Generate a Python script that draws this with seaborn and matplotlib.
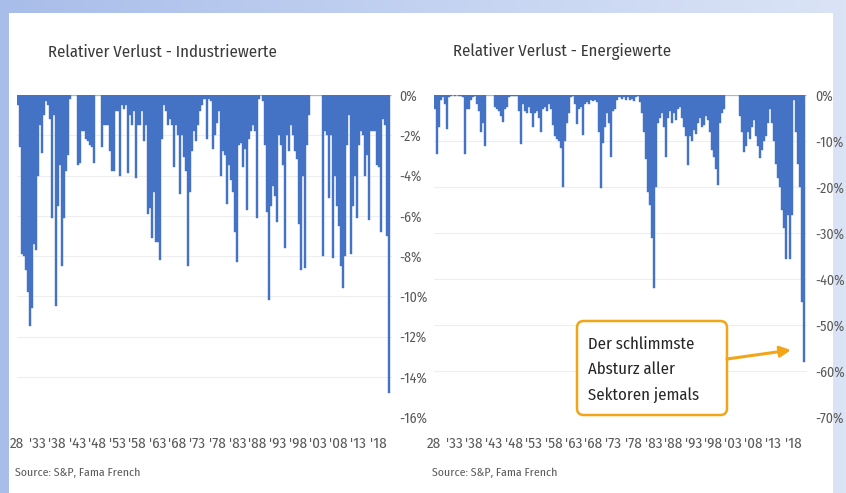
import numpy as np
import pandas as pd
import matplotlib
matplotlib.use("Agg")
import matplotlib.pyplot as plt
import seaborn as sns
from matplotlib import font_manager
from matplotlib.patches import Rectangle, FancyBboxPatch
from matplotlib.colors import LinearSegmentedColormap

# ---------------- data (half-year periods, relative drawdown in %) ----------------
periods = np.arange(1928.0, 2021.0, 0.5)

industrials = [
    -0.5, -2.6, -7.9, -8.0, -8.7, -9.8, -11.5, -10.6, -7.4, -7.7,   # 1928-1932
    -4.0, -1.5, -2.9, -1.0, -0.3, -0.5, -1.2, -6.1, -1.0, -10.5,    # 1933-1937
    -5.5, -3.5, -8.5, -6.1, -3.8, -3.0, -0.2, 0.0, 0.0, 0.0,        # 1938-1942
    -3.5, -3.4, -1.8, -1.8, -2.2, -2.3, -2.5, -2.6, -3.4, 0.0,      # 1943-1947
    0.0, 0.0, -2.6, -1.5, -1.5, -1.5, -2.8, -3.8, -3.8, -0.8,       # 1948-1952
    -0.8, -4.0, -0.5, -0.7, -0.5, -3.9, -1.0, -1.5, -0.8, -4.1,     # 1953-1957
    -1.5, -1.5, -0.8, -2.3, -1.5, -5.9, -5.6, -7.1, -4.8, -7.3,     # 1958-1962
    -7.3, -8.2, -2.2, -0.5, -0.8, -1.5, -1.2, -1.5, -3.6, -1.5,     # 1963-1967
    -2.0, -4.9, -2.0, -3.1, -3.8, -8.5, -4.8, -2.8, -1.8, -2.3,     # 1968-1972
    -1.5, -0.8, -0.5, -0.2, -2.2, -0.2, -0.3, -2.7, -2.0, -1.4,     # 1973-1977
    -0.8, -4.0, -2.8, -3.0, -5.4, -3.5, -4.2, -4.8, -6.8, -8.3,     # 1978-1982
    -2.5, -2.4, -3.6, -2.7, -5.7, -2.2, -1.8, -1.5, -1.8, -6.1,     # 1983-1987
    -0.2, 0.0, -0.3, -2.5, -5.8, -10.2, -5.5, -4.5, -5.0, -6.3,     # 1988-1992
    -2.0, -2.5, -3.5, -7.6, -2.0, -2.8, -1.5, -2.0, -2.8, -3.2,     # 1993-1997
    -6.4, -8.7, -4.0, -8.6, -2.5, -1.0, 0.0, 0.0, 0.0, 0.0,         # 1998-2002
    0.0, 0.0, -8.0, -1.8, -2.0, -5.1, -2.0, -8.1, -4.0, -5.5,       # 2003-2007
    -6.5, -8.5, -9.6, -8.0, -2.5, -1.0, -7.9, -5.5, -4.0, -6.1,     # 2008-2012
    -2.5, -1.8, -2.0, -4.0, -3.0, -6.2, -1.8, -1.8, -1.8, -3.5,     # 2013-2017
    -3.6, -6.8, -1.2, -1.5, -7.0, -14.8,                            # 2018-2020
]

energy = [
    -3.0, -12.8, -7.0, -1.0, -0.5, -2.0, -7.3, -0.5, -0.3, 0.0,     # 1928-1932
    -0.2, 0.0, -0.3, -0.2, -0.5, -12.8, -3.0, -3.0, -1.0, -0.5,     # 1933-1937
    -0.3, -2.0, -3.5, -8.0, -6.0, -11.0, 0.0, 0.0, 0.0, 0.0,        # 1938-1942
    -2.5, -3.0, -3.5, -4.5, -5.9, -3.0, -2.5, -0.5, -0.3, -0.3,     # 1943-1947
    -0.3, -0.3, -3.5, -10.6, -2.0, -3.5, -4.0, -2.5, -4.0, -7.0,    # 1948-1952
    -4.0, -3.5, -5.0, -8.0, -3.0, -2.5, -3.5, -2.0, -3.0, -6.5,     # 1953-1957
    -9.0, -9.5, -10.0, -11.5, -20.0, -10.0, -6.0, -4.0, -0.5, -0.3, # 1958-1962
    -2.0, -6.2, -3.0, -2.5, -8.8, -2.0, -1.5, -2.0, -1.0, -1.2,     # 1963-1967
    -1.0, -1.5, -8.0, -20.3, -10.5, -7.0, -4.0, -6.0, -13.5, -3.5,  # 1968-1972
    -3.0, -1.0, -0.5, -0.5, -0.8, -0.5, -1.0, -0.5, -1.0, -0.8,     # 1973-1977
    -1.2, -0.5, -0.3, -1.5, -4.0, -8.0, -14.0, -21.0, -24.0, -31.0, # 1978-1982
    -42.0, -20.0, -6.0, -5.0, -4.0, -7.0, -13.5, -5.0, -3.5, -6.0,  # 1983-1987
    -4.0, -5.5, -3.0, -2.5, -5.0, -7.0, -9.0, -15.3, -9.0, -10.0,   # 1988-1992
    -7.5, -8.5, -6.0, -5.0, -7.0, -6.5, -4.5, -5.5, -8.0, -12.0,    # 1993-1997
    -13.5, -16.0, -19.6, -6.0, -4.0, -3.0, 0.0, 0.0, 0.0, 0.0,      # 1998-2002
    0.0, 0.0, 0.0, -4.5, -8.0, -12.4, -11.0, -8.0, -9.5, -7.0,      # 2003-2007
    -5.5, -9.0, -11.0, -13.8, -12.0, -10.0, -9.0, -6.0, -3.0, -6.0, # 2008-2012
    -10.0, -15.0, -18.0, -20.0, -25.0, -29.0, -35.6, -26.0, -35.6, -26.0,  # 2013-2017
    -1.0, -8.0, -15.0, -20.0, -45.0, -58.0,                         # 2018-2020
]

x_tick_years = [1928, 1933, 1938, 1943, 1948, 1953, 1958, 1963, 1968, 1973,
                1978, 1983, 1988, 1993, 1998, 2003, 2008, 2013, 2018]
x_tick_labels = ["28", "'33", "'38", "'43", "'48", "'53", "'58", "'63", "'68", "'73",
                 "'78", "'83", "'88", "'93", "'98", "'03", "'08", "'13", "'18"]

ind_ticks = [0, -2, -4, -6, -8, -10, -12, -14, -16]
ind_tick_labels = ["0%", "-2%", "-4%", "-6%", "-8%", "-10%", "-12%", "-14%", "-16%"]
en_ticks = [0, -10, -20, -30, -40, -50, -60, -70]
en_tick_labels = ["0%", "-10%", "-20%", "-30%", "-40%", "-50%", "-60%", "-70%"]

titles = ["Relativer Verlust - Industriewerte", "Relativer Verlust - Energiewerte"]
source_text = "Source: S&P, Fama French"
note_lines = ["Der schlimmste", "Absturz aller", "Sektoren jemals"]

# ---------------- style ----------------
sns.set_style("white")
_names = {f.name for f in font_manager.fontManager.ttflist}
FONT = [n for n in ["Fira Sans Condensed", "Roboto Condensed", "Carlito"] if n in _names] + ["DejaVu Sans"]
plt.rcParams["font.family"] = FONT
plt.rcParams["font.weight"] = "normal"

BLUE = "#4472C4"
ORANGE = "#F2A516"
TICK_C = "#595959"
TITLE_C = "#3A3A3A"

W, H = 846, 493
fig = plt.figure(figsize=(W / 100, H / 100), dpi=100)

# background frame (light blue gradient with white sheet)
bg = fig.add_axes([0, 0, 1, 1], zorder=-10)
grad = np.linspace(0, 1, 256)[None, :]
cmap = LinearSegmentedColormap.from_list("bgc", ["#a8bde9", "#c3d2f1", "#dbe4f6"])
bg.imshow(grad, aspect="auto", cmap=cmap, extent=[0, 1, 0, 1])
bg.add_patch(Rectangle((9 / W, 0), (833 - 9) / W, (H - 13) / H, color="white", lw=0))
bg.set_xlim(0, 1)
bg.set_ylim(0, 1)
bg.axis("off")


def px_axes(x0, x1, y0, y1):
    return fig.add_axes([x0 / W, 1 - y1 / H, (x1 - x0) / W, (y1 - y0) / H])


ax1 = px_axes(17, 392, 95, 417)
ax2 = px_axes(434, 807, 95, 417)

panels = [
    (ax1, industrials, ind_ticks, ind_tick_labels, (-16, 0), 7),
    (ax2, energy, en_ticks, en_tick_labels, (-70, 0), 8),
]

for ax, vals, yt, ytl, ylim, ypad in panels:
    df = pd.DataFrame({"period": periods + 0.25, "loss": vals})
    sns.barplot(data=df, x="period", y="loss", native_scale=True, width=1.0,
                color=BLUE, saturation=1, errorbar=None, linewidth=0.3,
                edgecolor=BLUE, ax=ax, zorder=3)
    ax.set_facecolor("none")
    ax.set_xlim(1928.0, 2021.5)
    ax.set_ylim(*ylim)
    ax.set_yticks(yt)
    ax.set_yticklabels(ytl)
    ax.yaxis.tick_right()
    ax.set_xticks(x_tick_years)
    ax.set_xticklabels(x_tick_labels)
    ax.set_xlabel("")
    ax.set_ylabel("")
    ax.tick_params(axis="y", length=0, pad=ypad * 0.72, labelsize=10, labelcolor=TICK_C)
    ax.tick_params(axis="x", length=0, pad=14, labelsize=10.8, labelcolor=TICK_C)
    for s in ax.spines.values():
        s.set_visible(False)
    ax.grid(axis="y", color="#eeeeee", lw=0.8, zorder=0)
    ax.grid(axis="x", visible=False)
    ax.axhline(0, color="#c8c8c8", lw=1.0, zorder=2)

# titles and sources
fig.text(48 / W, 1 - 52 / H, titles[0], ha="left", va="center", fontsize=12, color=TITLE_C)
fig.text(453 / W, 1 - 52 / H, titles[1], ha="left", va="center", fontsize=12, color=TITLE_C)
fig.text(15 / W, 1 - 473 / H, source_text, ha="left", va="center", fontsize=8.5, color=TICK_C)
fig.text(432 / W, 1 - 473 / H, source_text, ha="left", va="center", fontsize=8.5, color=TICK_C)

# annotation box on the energy panel
aw, ah = 807 - 434, 417 - 95
def fx(px):
    return (px - 434) / aw
def fy(py):
    return 1 - (py - 95) / ah

box = FancyBboxPatch((fx(577), fy(415)), fx(727) - fx(577), fy(321) - fy(415),
                     boxstyle="round,pad=0,rounding_size=0.018", mutation_aspect=aw / ah,
                     transform=ax2.transAxes, fc="white", ec=ORANGE, lw=1.8,
                     clip_on=False, zorder=6)
ax2.add_patch(box)
for line, py in zip(note_lines, [344, 369, 395]):
    ax2.text(fx(588), fy(py), line, transform=ax2.transAxes, ha="left", va="center",
             fontsize=12, color="#262626", zorder=7)
ax2.annotate("", xy=(fx(791), fy(350)), xytext=(fx(727), fy(359)),
             xycoords="axes fraction", textcoords="axes fraction",
             arrowprops=dict(arrowstyle="-|>", color=ORANGE, lw=2.2, mutation_scale=16,
                             shrinkA=0, shrinkB=0), zorder=7, annotation_clip=False)

fig.savefig("out.png", dpi=100)
